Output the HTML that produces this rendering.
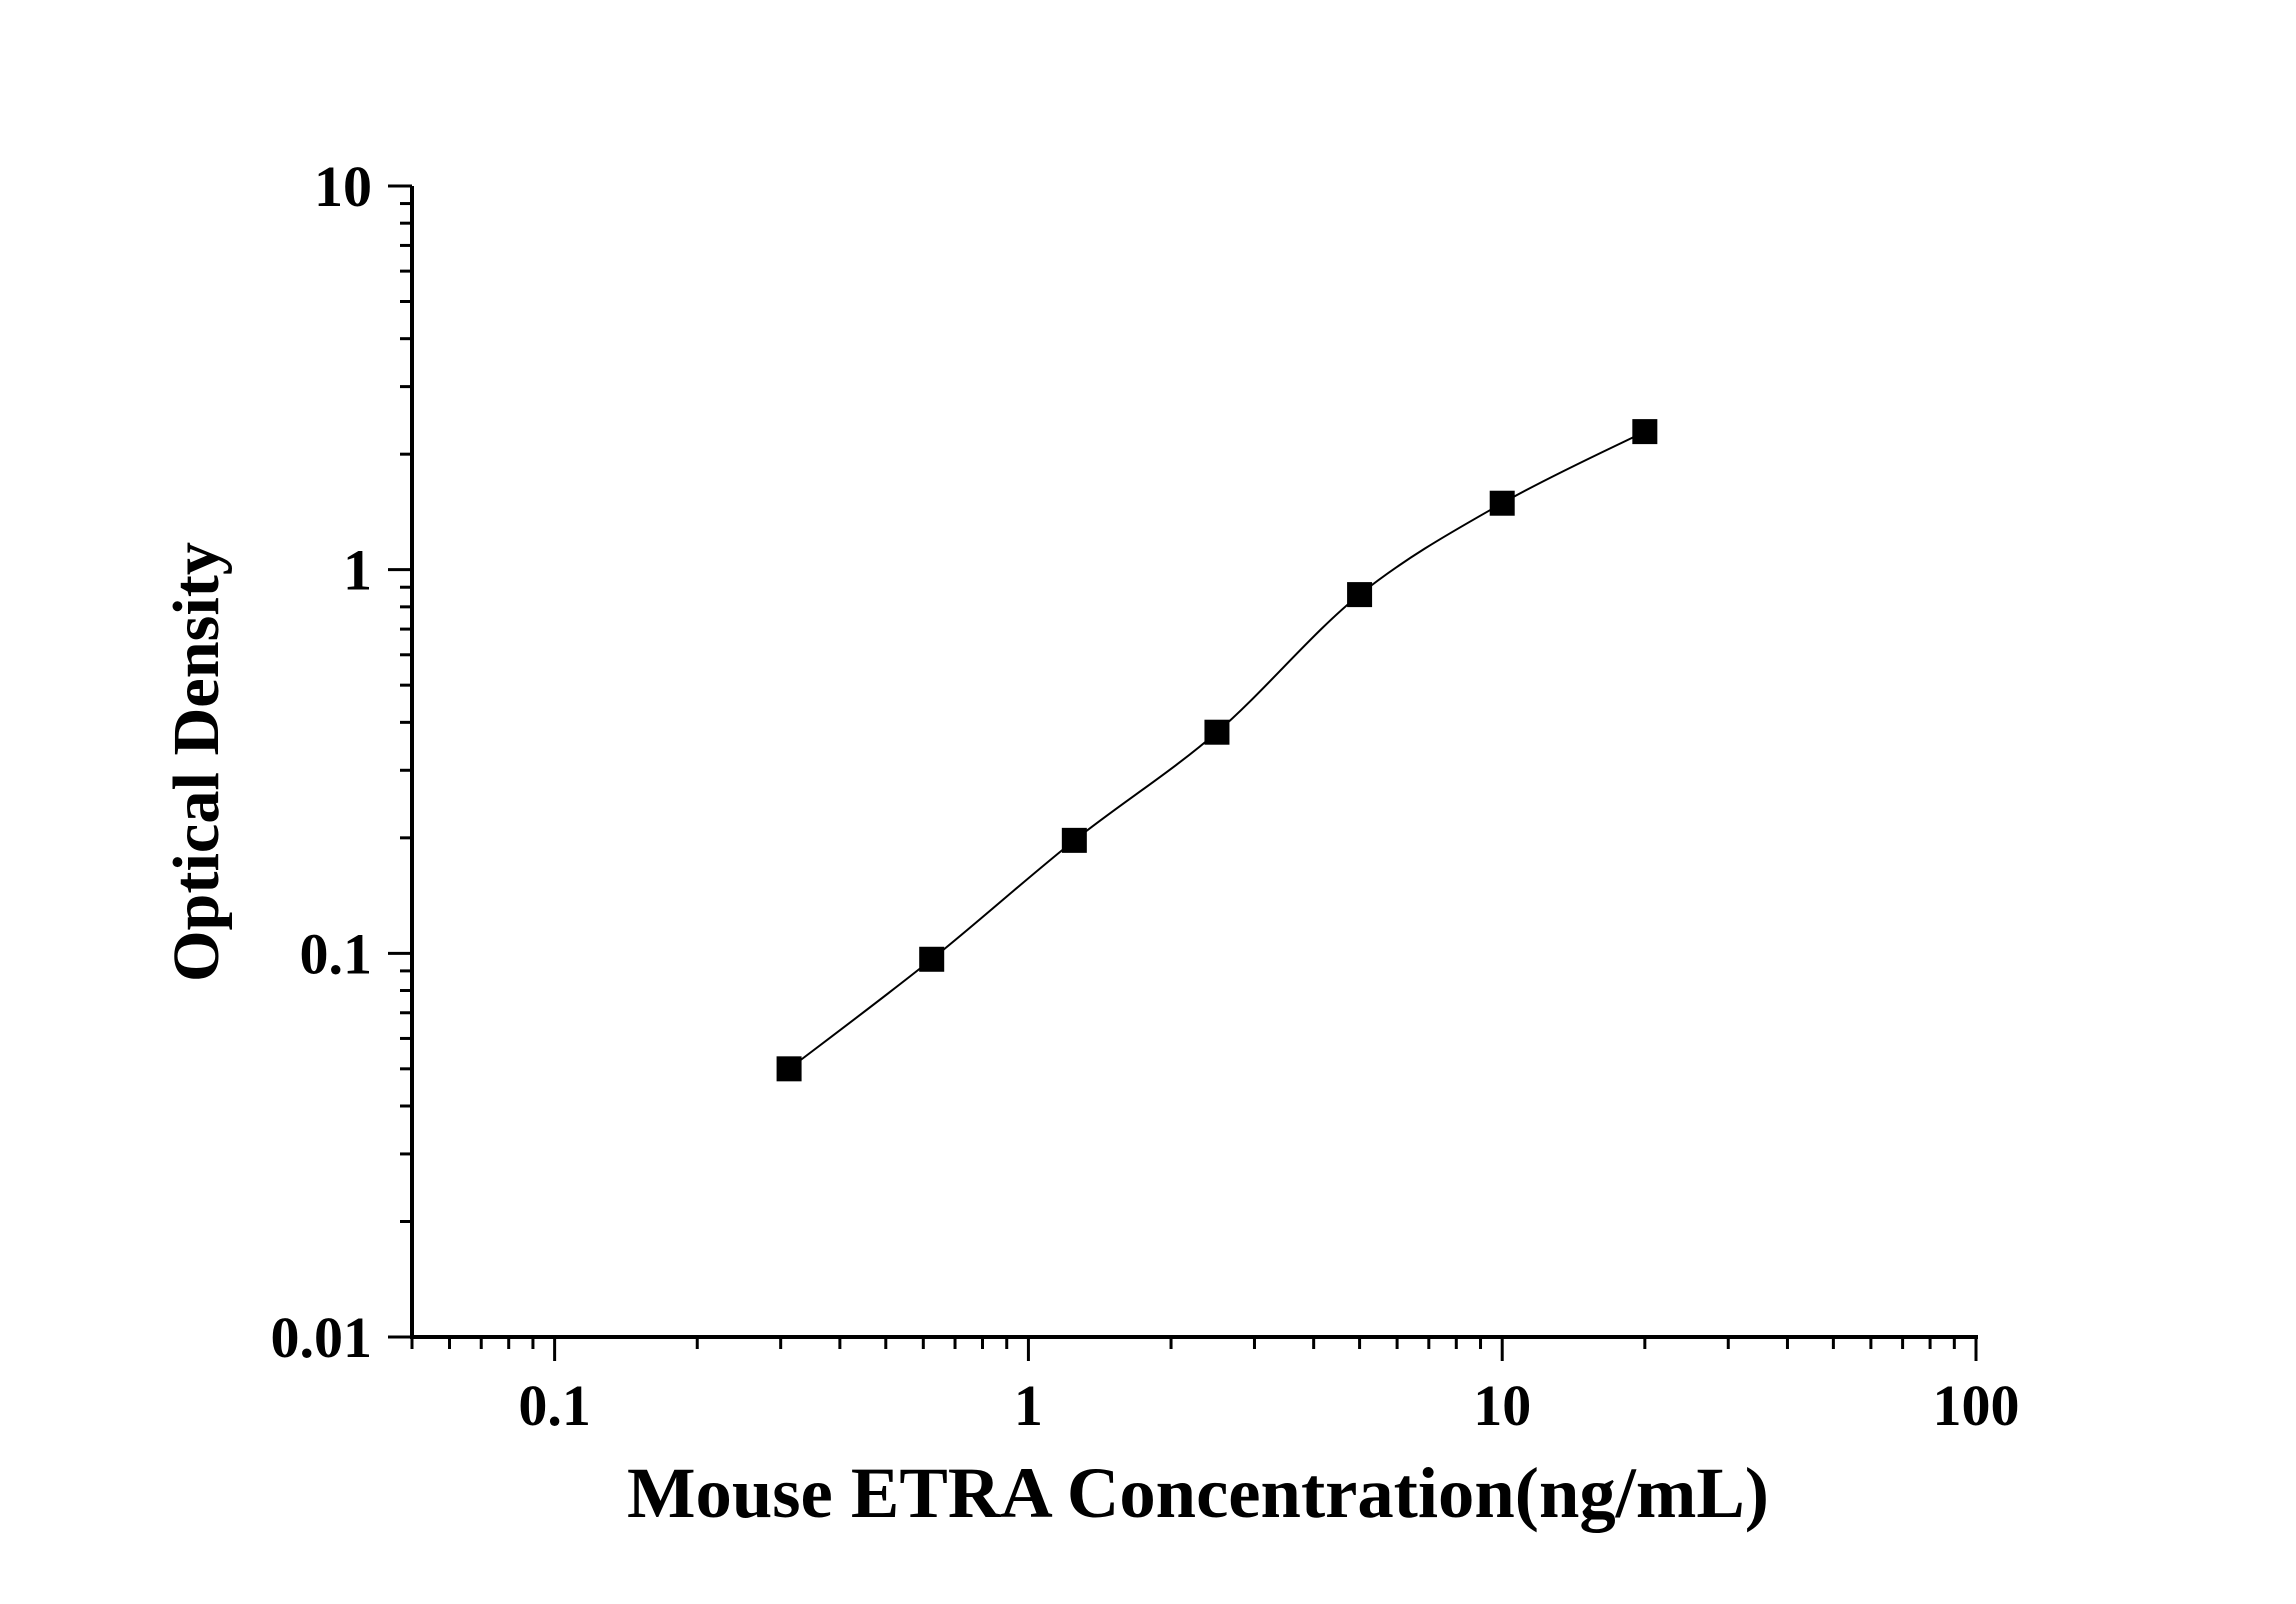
<!DOCTYPE html>
<html><head><meta charset="utf-8"><style>
html,body{margin:0;padding:0;background:#fff;}
svg{display:block;font-family:"Liberation Serif",serif;font-weight:bold;}
</style></head><body>
<svg id="chart" width="2296" height="1604" viewBox="0 0 2296 1604">
<g id="axes"></g>
<g id="series"></g>
<text x="1198" y="1517" text-anchor="middle" font-size="72" textLength="1142" lengthAdjust="spacingAndGlyphs">Mouse ETRA Concentration(ng/mL)</text>
<text transform="translate(218,762) rotate(-90)" text-anchor="middle" font-size="66" textLength="440" lengthAdjust="spacingAndGlyphs">Optical Density</text>
</svg>
<script>
const concentrations = [0.3125, 0.625, 1.25, 2.5, 5, 10, 20];
const odValues = [0.05, 0.0965, 0.197, 0.377, 0.861, 1.49, 2.29];
const xTickValues = [0.1, 1, 10, 100];
const xTickLabels = ["0.1", "1", "10", "100"];
const yTickValues = [0.01, 0.1, 1, 10];
const yTickLabels = ["0.01", "0.1", "1", "10"];

const NS = "http://www.w3.org/2000/svg";
const X0 = 412, X1 = 1976, Y0 = 1337, Y1 = 186;
const xMinL = Math.log10(0.05), xMaxL = 2, yMinL = -2, yMaxL = 1;
function xs(v){ return X0 + (Math.log10(v) - xMinL) / (xMaxL - xMinL) * (X1 - X0); }
function ys(v){ return Y0 - (Math.log10(v) - yMinL) / (yMaxL - yMinL) * (Y0 - Y1); }
function mk(tag, attrs, parent){ const e = document.createElementNS(NS, tag); for (const k in attrs) e.setAttribute(k, attrs[k]); parent.appendChild(e); return e; }

const axes = document.getElementById("axes");
const xl = mk("line", {x1: X0 - 2, y1: Y0, x2: X1 + 2, y2: Y0, stroke: "#000", "stroke-width": 4}, axes);


const yl = mk("line", {x1: X0, y1: Y1, x2: X0, y2: Y0 + 2, stroke: "#000", "stroke-width": 4}, axes);



// x ticks
for (let d = -2; d <= 1; d++) {
  for (let m = 1; m <= 9; m++) {
    const v = m * Math.pow(10, d);
    if (v < 0.05 - 1e-9 || v > 100 + 1e-9) continue;
    const major = m === 1;
    const t = mk("line", {x1: xs(v), y1: Y0, x2: xs(v), y2: Y0 + (major ? 24 : 12), stroke: "#000", "stroke-width": 3}, axes);
    
    
  }
}
const tM = mk("line", {x1: xs(100), y1: Y0, x2: xs(100), y2: Y0 + 24, stroke: "#000", "stroke-width": 3}, axes);


xTickValues.forEach((v, i) => {
  const t = mk("text", {x: xs(v), y: 1425, "text-anchor": "middle", "font-size": 58}, axes);
  t.textContent = xTickLabels[i];
  
  
});

// y ticks
for (let d = -2; d <= 0; d++) {
  for (let m = 1; m <= 9; m++) {
    const v = m * Math.pow(10, d);
    const major = m === 1;
    const t = mk("line", {x1: X0, y1: ys(v), x2: X0 - (major ? 24 : 12), y2: ys(v), stroke: "#000", "stroke-width": 3}, axes);
    
    
  }
}
const tY = mk("line", {x1: X0, y1: ys(10), x2: X0 - 24, y2: ys(10), stroke: "#000", "stroke-width": 3}, axes);


yTickValues.forEach((v, i) => {
  const t = mk("text", {x: 372, y: ys(v) + 20, "text-anchor": "end", "font-size": 58}, axes);
  t.textContent = yTickLabels[i];
  
  
});

// curve (Catmull-Rom through points)
const ser = document.getElementById("series");
const P = concentrations.map((c, i) => [xs(c), ys(odValues[i])]);
let d = "M" + P[0][0] + "," + P[0][1];
for (let i = 0; i < P.length - 1; i++) {
  const p0 = P[Math.max(0, i - 1)], p1 = P[i], p2 = P[i + 1], p3 = P[Math.min(P.length - 1, i + 2)];
  const c1 = [p1[0] + (p2[0] - p0[0]) / 6, p1[1] + (p2[1] - p0[1]) / 6];
  const c2 = [p2[0] - (p3[0] - p1[0]) / 6, p2[1] - (p3[1] - p1[1]) / 6];
  d += " C" + c1 + " " + c2 + " " + p2;
}
const path = mk("path", {d: d, fill: "none", stroke: "#000", "stroke-width": 2}, ser);


P.forEach(p => {
  const r = mk("rect", {x: p[0] - 12.5, y: p[1] - 12.5, width: 25, height: 25, fill: "#000"}, ser);
  
  
});
</script>
</body></html>
